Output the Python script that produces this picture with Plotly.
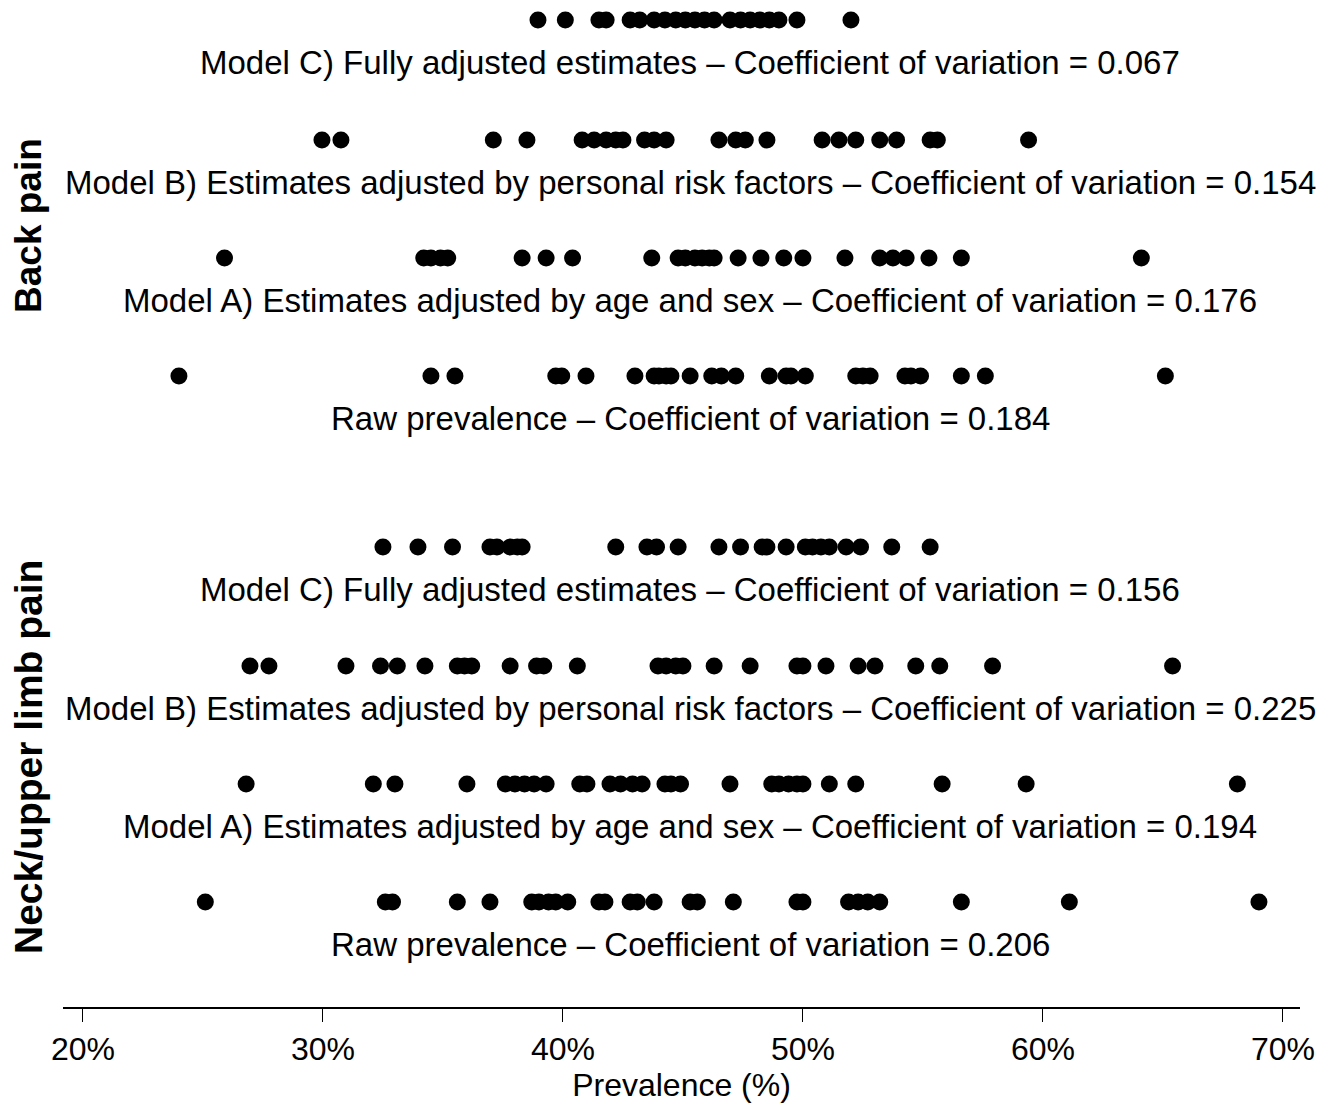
import plotly.graph_objects as go

# ---- data (prevalence %) ----
back_c = [38.96, 40.1, 41.5, 41.8, 42.8, 43.2, 43.8, 44.25, 44.7, 45.1, 45.5, 45.9, 46.3,
          46.96, 47.4, 47.8, 48.2, 48.6, 49.0, 49.75, 52.0]
back_b = [29.96, 30.75, 37.1, 38.5, 40.8, 41.3, 41.8, 42.2, 42.5, 43.4, 43.8, 44.3, 46.5,
          47.2, 47.6, 48.5, 50.8, 51.5, 52.2, 53.2, 53.9, 55.3, 55.6, 59.4]
back_a = [25.9, 34.2, 34.5, 34.9, 35.2, 38.3, 39.3, 40.4, 43.7, 44.8, 45.1, 45.5, 45.8,
          46.1, 46.3, 47.3, 48.25, 49.2, 50.0, 51.75, 53.2, 53.75, 54.3, 55.25, 56.6, 64.1]
back_raw = [24.0, 34.5, 35.5, 39.7, 39.95, 40.96, 43.0, 43.8, 44.0, 44.3, 44.5, 45.3, 46.2,
            46.6, 47.2, 48.6, 49.3, 49.5, 50.1, 52.2, 52.5, 52.8, 54.25, 54.5, 54.9, 56.6,
            57.6, 65.1]
neck_c = [32.5, 33.96, 35.4, 36.96, 37.25, 37.8, 38.1, 38.3, 42.2, 43.5, 43.9, 44.8, 46.5,
          47.4, 48.3, 48.5, 49.3, 50.1, 50.4, 50.75, 51.1, 51.8, 52.4, 53.7, 55.3]
neck_b = [26.96, 27.75, 30.96, 32.4, 33.1, 34.25, 35.6, 35.9, 36.2, 37.8, 38.9, 39.2, 40.6,
          43.96, 44.3, 44.7, 45.0, 46.3, 47.8, 49.75, 50.0, 50.96, 52.3, 53.0, 54.7, 55.7,
          57.9, 65.4]
neck_a = [26.8, 32.1, 33.0, 36.0, 37.6, 38.0, 38.4, 38.8, 39.3, 40.7, 41.0, 41.96, 42.4,
          42.9, 43.3, 44.25, 44.5, 44.9, 46.96, 48.7, 49.0, 49.4, 49.75, 50.0, 51.1, 52.2,
          55.8, 59.3, 68.1]
neck_raw = [25.1, 32.6, 32.9, 35.6, 36.96, 38.7, 39.0, 39.4, 39.7, 40.2, 41.5, 41.75, 42.8,
            43.1, 43.8, 45.3, 45.6, 47.1, 49.75, 50.0, 51.9, 52.3, 52.7, 53.2, 56.6, 61.1,
            69.0]

row_labels = [
    "Model C) Fully adjusted estimates \u2013 Coefficient of variation = 0.067",
    "Model B) Estimates adjusted by personal risk factors \u2013 Coefficient of variation = 0.154",
    "Model A) Estimates adjusted by age and sex \u2013 Coefficient of variation = 0.176",
    "Raw prevalence \u2013 Coefficient of variation = 0.184",
    "Model C) Fully adjusted estimates \u2013 Coefficient of variation = 0.156",
    "Model B) Estimates adjusted by personal risk factors \u2013 Coefficient of variation = 0.225",
    "Model A) Estimates adjusted by age and sex \u2013 Coefficient of variation = 0.194",
    "Raw prevalence \u2013 Coefficient of variation = 0.206",
]
group_labels = ["Back pain", "Neck/upper limb pain"]
tick_vals = [20, 30, 40, 50, 60, 70]
tick_text = ["20%", "30%", "40%", "50%", "60%", "70%"]

# ---- layout positions (vertical slots, in page pixels) ----
series = [back_c, back_b, back_a, back_raw, neck_c, neck_b, neck_a, neck_raw]
row_y = [20, 140, 258, 376, 547, 666, 784, 902]
label_offset = 42
group_y = [225, 757]

fig = go.Figure()
for vals, y in zip(series, row_y):
    fig.add_trace(go.Scatter(
        x=vals, y=[y] * len(vals), mode="markers",
        marker=dict(color="black", size=17, symbol="circle", line=dict(width=0)),
        showlegend=False, hoverinfo="x"))

font_main = "Liberation Sans, Arial, sans-serif"
for lab, y in zip(row_labels, row_y):
    fig.add_annotation(x=45.3, y=y + label_offset, xref="x", yref="y", text=lab,
                       showarrow=False, xanchor="center", yanchor="middle",
                       font=dict(family=font_main, size=33, color="black"))

for lab, size, y in zip(group_labels, [37, 39], group_y):
    fig.add_annotation(x=-0.0283, y=y, xref="paper", yref="y", text="<b>" + lab + "</b>",
                       textangle=-90, showarrow=False, xanchor="center", yanchor="middle",
                       font=dict(family=font_main, size=size, color="black"))

fig.update_layout(
    width=1323, height=1097,
    margin=dict(l=55, r=31, t=0, b=98),
    paper_bgcolor="white", plot_bgcolor="white",
    xaxis=dict(range=[19.17, 70.71], tickvals=tick_vals, ticktext=tick_text,
               showgrid=False, zeroline=False, showline=True, linecolor="black", linewidth=2,
               ticks="outside", ticklen=13, tickwidth=1, tickcolor="black",
               tickfont=dict(family=font_main, size=32, color="black"),
               title=dict(text="Prevalence (%)", standoff=2,
                          font=dict(family=font_main, size=32, color="black"))),
    yaxis=dict(range=[1007, 8], visible=False, showgrid=False, zeroline=False),
)

fig.write_html("out.html")
